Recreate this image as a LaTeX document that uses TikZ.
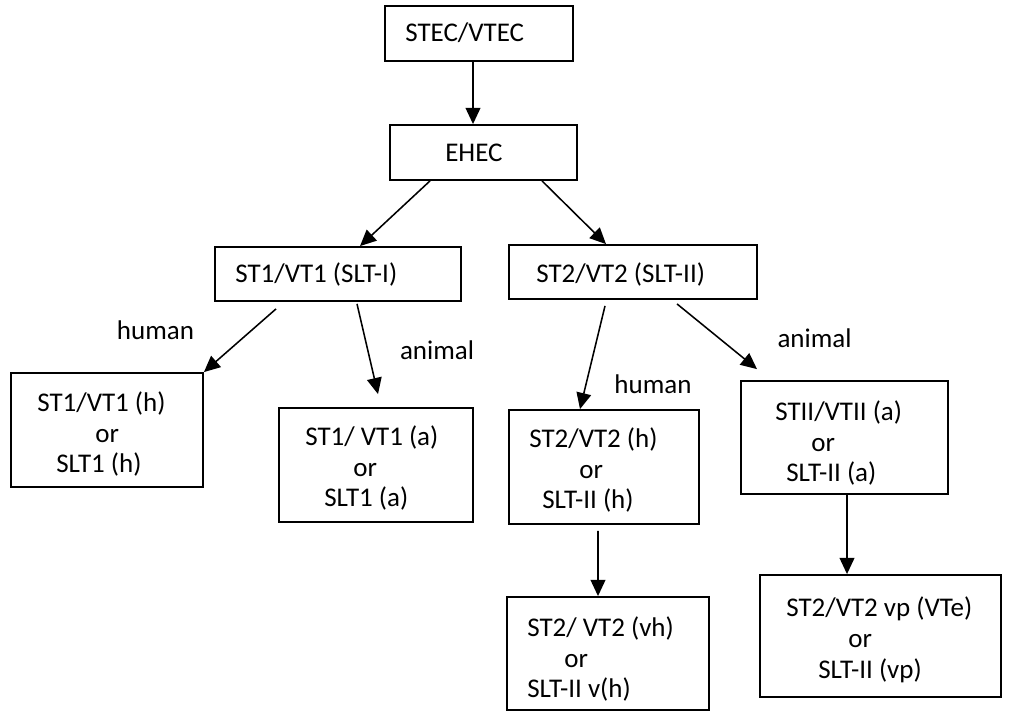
\documentclass[tikz,border=0pt]{standalone}
\usepackage{fontspec}
\setmainfont{Carlito}
\usetikzlibrary{arrows.meta}

\begin{document}
\begin{tikzpicture}[
  x=1cm, y=1cm,
  every node/.style={inner sep=0pt},
  box/.style={draw, line width=1.3pt},
  txt/.style={anchor=west, align=left, font=\fontsize{19.2}{21.9}\selectfont},
  lbl/.style={font=\fontsize{19.2}{21.9}\selectfont},
  arrow/.style={draw, line width=1.1pt, -{Triangle[length=11.5pt,width=10.5pt]}}]

  \useasboundingbox (0,0) rectangle (25.225,17.8);

  % boxes
  \node[box, minimum width=4.70cm,  minimum height=1.375cm] (stec)  at (11.975,16.9625) {};
  \node[box, minimum width=4.675cm, minimum height=1.375cm] (ehec)  at (12.0875,13.9875) {};
  \node[box, minimum width=6.15cm,  minimum height=1.35cm]  (st1)   at (8.45,10.95) {};
  \node[box, minimum width=6.2cm,   minimum height=1.35cm]  (st2)   at (15.825,11.00) {};
  \node[box, minimum width=4.8cm,   minimum height=2.85cm]  (st1h)  at (2.675,7.05) {};
  \node[box, minimum width=4.85cm,  minimum height=2.85cm]  (st1a)  at (9.40,6.175) {};
  \node[box, minimum width=4.75cm,  minimum height=2.85cm]  (st2h)  at (15.10,6.125) {};
  \node[box, minimum width=5.175cm, minimum height=2.825cm] (st2a)  at (21.1125,6.8625) {};
  \node[box, minimum width=5.05cm,  minimum height=2.825cm] (st2vh) at (15.20,1.4625) {};
  \node[box, minimum width=6.025cm, minimum height=3.05cm]  (st2vp) at (22.0125,1.90) {};

  % texts inside the boxes
  \node[txt] (stec-t)  at (10.125,16.975) {STEC/VTEC};
  \node[txt] (ehec-t)  at (11.125,13.975) {EHEC};
  \node[txt] (st1-t)   at (5.875,10.925)  {ST1/VT1 (SLT-I)};
  \node[txt] (st2-t)   at (13.40,10.925)  {ST2/VT2 (SLT-II)};
  \node[txt] (st1h-t)  at (0.925,6.95)    {ST1/VT1 (h)\\\hspace*{1.45cm}or\\\hspace*{0.475cm}SLT1 (h)};
  \node[txt] (st1a-t)  at (7.625,6.10)    {ST1/ VT1 (a)\\\hspace*{1.2cm}or\\\hspace*{0.475cm}SLT1 (a)};
  \node[txt] (st2h-t)  at (13.225,6.05)   {ST2/VT2 (h)\\\hspace*{1.25cm}or\\\hspace*{0.325cm}SLT-II (h)};
  \node[txt] (st2a-t)  at (19.375,6.725)  {STII/VTII (a)\\\hspace*{0.9cm}or\\\hspace*{0.275cm}SLT-II (a)};
  \node[txt] (st2vh-t) at (13.175,1.325)  {ST2/ VT2 (vh)\\\hspace*{0.925cm}or\\SLT-II v(h)};
  \node[txt] (st2vp-t) at (19.65,1.80)    {ST2/VT2 vp (VTe)\\\hspace*{1.55cm}or\\\hspace*{0.8cm}SLT-II (vp)};

  % arrows
  \draw[arrow] ([xshift=-0.15cm]stec.south) -- ([xshift=-0.2625cm]ehec.north);
  \draw[arrow] ([xshift=-1.3375cm]ehec.south) -- ([xshift=0.55cm]st1.north);
  \draw[arrow] ([xshift=1.4625cm]ehec.south) -- ([xshift=-0.675cm]st2.north);
  \draw[arrow] ([xshift=-1.55cm,yshift=-0.175cm]st1.south) -- (st1h.north east);
  \draw[arrow] ([xshift=0.475cm,yshift=-0.05cm]st1.south) -- ([xshift=0.05cm,yshift=0.325cm]st1a.north);
  \draw[arrow] ([xshift=-0.7cm,yshift=-0.15cm]st2.south) -- ([xshift=-0.6cm]st2h.north);
  \draw[arrow] ([xshift=1.1cm,yshift=-0.1cm]st2.south) -- ([xshift=-2.1875cm,yshift=0.275cm]st2a.north);
  \draw[arrow] ([xshift=-0.15cm,yshift=-0.15cm]st2h.south) -- ([xshift=-0.25cm]st2vh.north);
  \draw[arrow] ([xshift=0.0625cm]st2a.south) -- ([xshift=-0.8375cm]st2vp.north);

  % labels printed beside the arrows
  \node[lbl] (hum1) at (3.8875,9.55)  {human};
  \node[lbl] (ani1) at (10.925,9.05)  {animal};
  \node[lbl] (hum2) at (16.325,8.20)  {human};
  \node[lbl] (ani2) at (20.3625,9.35) {animal};
\end{tikzpicture}
\end{document}
